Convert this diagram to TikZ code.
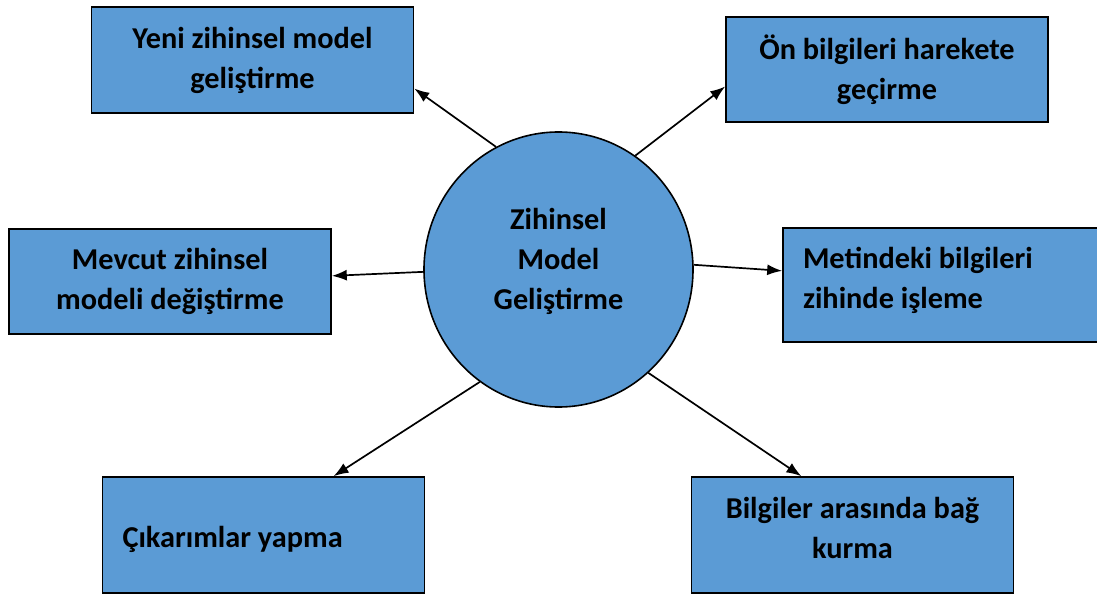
\documentclass[tikz,border=0pt]{standalone}
\usepackage{fontspec}
\setmainfont{Carlito}
\usetikzlibrary{arrows.meta,shapes.geometric}

\definecolor{kutumavi}{RGB}{91,155,213}

% invisible strut: extra depth below (or height above) a line
\newcommand{\altpay}[1]{\rule[-#1]{0pt}{0pt}}
\newcommand{\ustpay}[1]{\rule{0pt}{#1}}

\tikzset{
  kutu/.style={draw=black, line width=1.6pt, fill=kutumavi, minimum width=322pt, inner sep=0pt, align=center, font=\bfseries\fontsize{30.3}{40}\selectfont},
  solkutu/.style={kutu, text width=282pt, align=flush left},
  merkez/.style={ellipse, draw=black, line width=1.6pt, fill=kutumavi, minimum width=269pt, minimum height=275pt, inner sep=0pt, align=center, font=\bfseries\fontsize{30.3}{40}\selectfont},
  ok/.style={-{Latex[length=15pt,width=11pt]}, line width=1.7pt}
}

\begin{document}
\begin{tikzpicture}[x=1pt, y=-1pt]
        \useasboundingbox (0, 0) rectangle (1097, 596);

        % Center
        \node[merkez] (zm) at (558.5, 269.5) {Zihinsel\\Model\\Geliştirme\altpay{22pt}};

        % Boxes on the left
        \node[kutu, minimum height=106pt] (yeni) at (252.5, 60) {Yeni zihinsel model\\geliştirme};
        \node[kutu, minimum height=105pt] (mevcut) at (170, 281.5) {Mevcut zihinsel\\modeli değiştirme};
        \node[solkutu, minimum height=116pt] (cikarim) at (263.5, 535) {\ustpay{31pt}Çıkarımlar yapma};

        % Boxes on the right
        \node[kutu, minimum height=105pt] (onbilgi) at (887, 69.5) {Ön bilgileri harekete\\geçirme};
        \node[solkutu, minimum height=114pt] (metin) at (944, 285) {Metindeki bilgileri\\zihinde işleme\altpay{14pt}};
        \node[kutu, minimum height=116pt] (bag) at (852.5, 535) {Bilgiler arasında bağ\\kurma\altpay{14pt}};

        % Arrows from the center
        \draw[ok] (zm.117.6) -- (yeni.-10);
        \draw[ok] (zm.56.3) -- (onbilgi.186);
        \draw[ok] (zm.181) -- (mevcut.2);
        \draw[ok] (zm.2.8) -- (metin.175);
        \draw[ok] (zm.235.5) -- (cikarim.40);
        \draw[ok] (zm.-49) -- (bag.131);
\end{tikzpicture}
\end{document}
